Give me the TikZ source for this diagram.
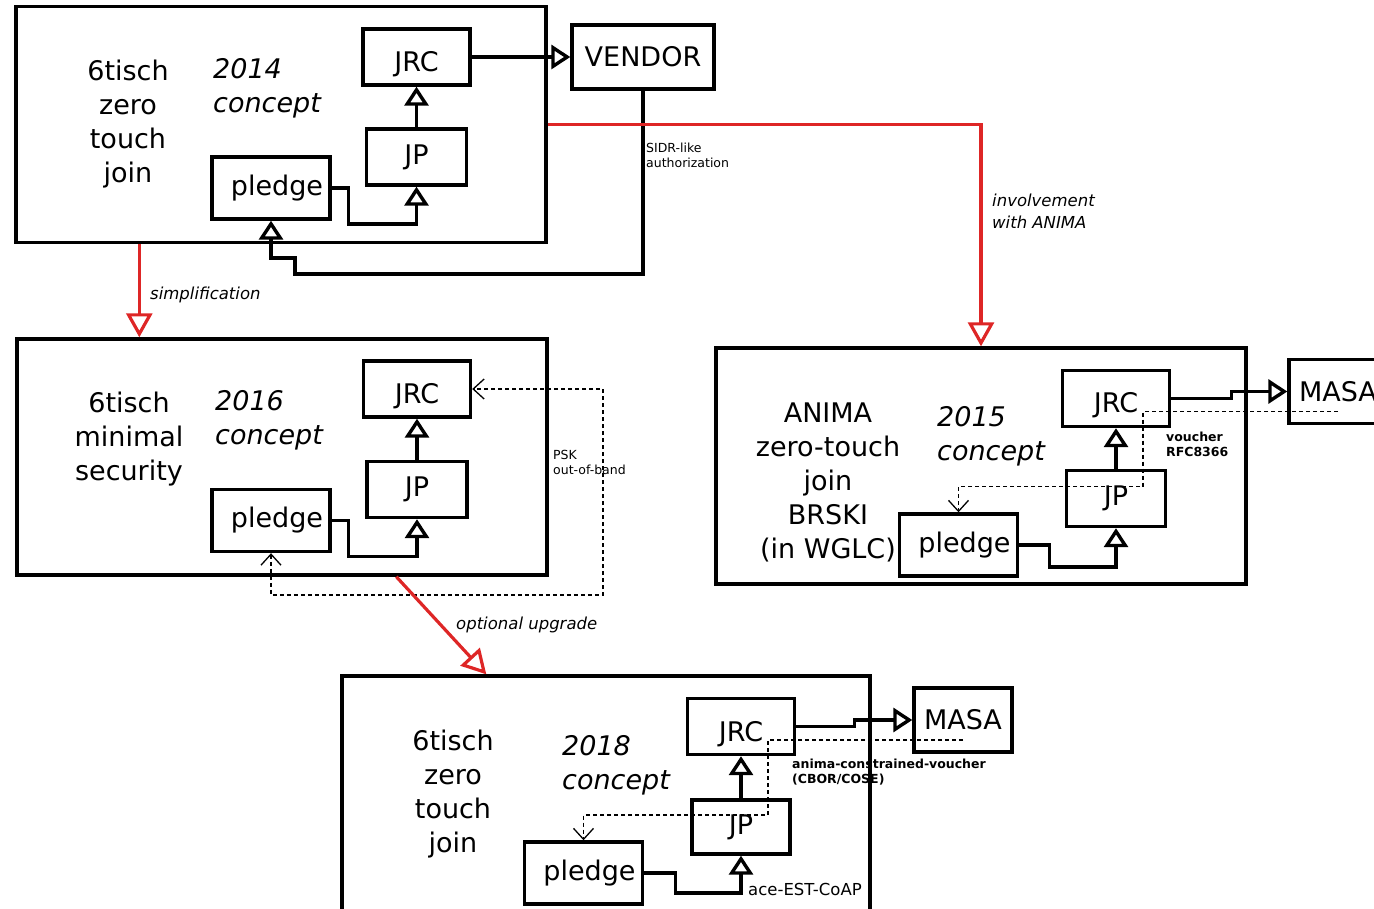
\documentclass[tikz,border=0pt]{standalone}
\usepackage{fontspec}
\setmainfont{DejaVu Sans}
\usetikzlibrary{arrows.meta}
\definecolor{evolred}{RGB}{222,38,38}

\begin{document}
\begin{tikzpicture}[x=1pt,y=-1pt,
        >={Straight Barb[length=11pt,width=20pt,line width=1.3pt]},
        frame/.style={draw, line width=3.4pt, minimum width=530pt, minimum height=236pt},
        unit/.style={draw, line width=3.4pt, inner sep=0pt, font=\fontsize{27}{34}\selectfont},
        jrcbox/.style={unit, minimum width=107pt, minimum height=56pt, text height=29pt, text depth=0pt},
        jpbox/.style={unit, minimum width=100pt, minimum height=56pt},
        pledgebox/.style={unit, minimum width=118pt, minimum height=62pt, text width=104pt, align=right},
        masabox/.style={unit, minimum width=98pt, minimum height=64pt},
        conn/.style={line width=3.4pt, -{Triangle[open,length=19pt,width=24pt]}},
        evol/.style={evolred, line width=3.2pt, -{Triangle[open,length=24pt,width=26pt]}},
        sig/.style={line width=1.8pt, dash pattern=on 4pt off 3pt},
        title/.style={font=\fontsize{27}{34}\selectfont, align=center},
        year/.style={font=\fontsize{27}{34}\selectfont\itshape, align=left, anchor=west, inner sep=0pt},
        tag/.style={font=\fontsize{16.5}{22}\selectfont\itshape, align=left, anchor=west, inner sep=0pt},
        note/.style={font=\fontsize{12.5}{15}\selectfont, align=left, anchor=west, inner sep=0pt}]
    \path[use as bounding box, clip] (0,0) rectangle (1374,909);

    \node[frame] (frame14) at (281,124.5) {};
    \node[title] at (128,124) {6tisch\\zero\\touch\\join};
    \node[year] at (213,88) {2014\\concept};
    \node[jrcbox] (jrc14) at (416.5,57) {JRC};
    \node[jpbox] (jp14) at (416.5,157) {JP};
    \node[pledgebox] (pledge14) at (271,188) {pledge};
    \node[unit, minimum width=142pt, minimum height=64pt] (vendor) at (643,57) {VENDOR};
    \draw[conn] (jp14.north) -- (jrc14.south);
    \draw[conn] (pledge14.east) -| ++(17,36) -| (jp14.south);
    \draw[conn] (jrc14.east) -- (vendor.west);
    \draw[conn] (vendor.south) |- (295,274) |- (271,258) -- (pledge14.south);
    \node[note] at (646,155) {SIDR-like\\authorization};

    \node[frame] (frame16) at (282,457) {};
    \node[title] at (129,439) {6tisch\\minimal\\security};
    \node[year] at (215,420) {2016\\concept};
    \node[jrcbox] (jrc16) at (417,389) {JRC};
    \node[jpbox] (jp16) at (417,489.5) {JP};
    \node[pledgebox] (pledge16) at (271,520.5) {pledge};
    \draw[conn] (jp16.north) -- (jrc16.south);
    \draw[conn] (pledge16.east) -| ++(17,36) -| (jp16.south);
    \draw[sig, <->] (pledge16.south) |- (603,595) |- (jrc16.east);
    \node[note] at (553,462) {PSK\\out-of-band};

    \node[frame] (frame15) at (981,466) {};
    \node[title] at (828,482) {ANIMA\\zero-touch\\join\\BRSKI\\(in WGLC)};
    \node[year] at (937,436) {2015\\concept};
    \node[jrcbox] (jrc15) at (1116,398.5) {JRC};
    \node[jpbox, minimum width=99pt] (jp15) at (1116,498.5) {JP};
    \node[pledgebox] (pledge15) at (958.5,545) {pledge};
    \node[masabox] (masa15) at (1338,391.5) {MASA};
    \draw[conn] (jp15.north) -- (jrc15.south);
    \draw[conn] (pledge15.east) -| ++(30,22) -| (jp15.south);
    \draw[conn] (jrc15.east) -- ++(60,0) |- (masa15.west);
    \draw[sig, ->] ([yshift=-20pt]masa15.center) -| ++(-195,75) -| (pledge15.north);
    \node[note, font=\fontsize{12.5}{15}\selectfont\bfseries] at (1166,444) {voucher\\RFC8366};

    \node[frame, minimum width=528pt] (frame18) at (606,794) {};
    \node[title] at (453,794) {6tisch\\zero\\touch\\join};
    \node[year] at (562,765) {2018\\concept};
    \node[jrcbox] (jrc18) at (741,726.5) {JRC};
    \node[jpbox, minimum width=98pt, minimum height=54pt] (jp18) at (741,827) {JP};
    \node[pledgebox] (pledge18) at (583.5,873) {pledge};
    \node[masabox] (masa18) at (963,720) {MASA};
    \draw[conn] (jp18.north) -- (jrc18.south);
    \draw[conn] (pledge18.east) -| ++(31,20) -| (jp18.south);
    \draw[conn] (jrc18.east) -- ++(58,0) |- (masa18.west);
    \draw[sig, ->] ([yshift=-20pt]masa18.center) -| ++(-195,75) -| (pledge18.north);
    \node[note, font=\fontsize{12.5}{15}\selectfont\bfseries] at (792,772) {anima-constrained-voucher\\(CBOR/COSE)};
    \node[note, font=\fontsize{16.5}{20}\selectfont] at (748,889) {ace-EST-CoAP};

    \draw[evol] ([xshift=125pt]frame14.south west) -- ([xshift=124pt]frame16.north west);
    \node[tag] at (150,295) {simplification};
    \draw[evol] (frame14.east) -| (frame15.north);
    \node[tag] at (992,211) {involvement\\with ANIMA};
    \draw[evol] ([xshift=381pt]frame16.south west) -- ([xshift=146pt]frame18.north west);
    \node[tag] at (456,625) {optional upgrade};
\end{tikzpicture}
\end{document}
